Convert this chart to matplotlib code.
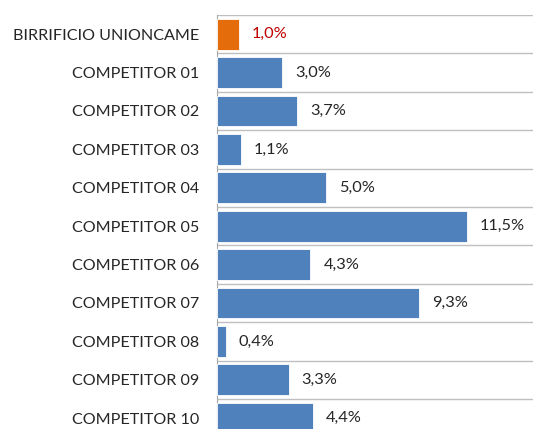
import matplotlib
matplotlib.use("Agg")
import matplotlib.pyplot as plt

# quota di mercato
categories = ["BIRRIFICIO UNIONCAME", "COMPETITOR 01", "COMPETITOR 02", "COMPETITOR 03",
              "COMPETITOR 04", "COMPETITOR 05", "COMPETITOR 06", "COMPETITOR 07",
              "COMPETITOR 08", "COMPETITOR 09", "COMPETITOR 10"]
values = [1.0, 3.0, 3.7, 1.1, 5.0, 11.5, 4.3, 9.3, 0.4, 3.3, 4.4]
value_labels = ["1,0%", "3,0%", "3,7%", "1,1%", "5,0%", "11,5%", "4,3%", "9,3%", "0,4%", "3,3%", "4,4%"]

plt.rcParams['font.family'] = ['Lato', 'DejaVu Sans']

W, H = 533, 429
fig = plt.figure(figsize=(W / 100, H / 100), dpi=100)
fig.patch.set_facecolor('white')

# axes runs past the bottom edge, like the cropped original
top_px, pitch = 15, 38.4
bottom_px = top_px + pitch * len(categories)
ax = fig.add_axes([217 / W, 1 - bottom_px / H, 1 - 217 / W, (bottom_px - top_px) / H])

colors = ['#E46C0A'] + ['#4F81BD'] * (len(values) - 1)
y = list(range(len(categories)))
ax.barh(y, values, height=0.8, color=colors, edgecolor='white', linewidth=0.6, zorder=3)

for i, (v, lab) in enumerate(zip(values, value_labels)):
    ax.annotate(lab, (v, i), xytext=(13, 0), textcoords='offset pixels',
                va='center', ha='left', fontsize=11.8,
                color='#C00000' if i == 0 else '#262626')

ax.set_xlim(0, (W - 217) / 21.74)
ax.set_ylim(len(categories) - 0.5, -0.5)

# separators between categories
for b in [i + 0.5 for i in range(-1, len(categories))]:
    ax.axhline(b, color='#BFBFBF', lw=1.0, zorder=1)

ax.set_yticks(y)
ax.set_yticklabels(categories, fontsize=11.6, color='#262626')
ax.tick_params(axis='y', length=0, pad=13)
ax.set_xticks([])
for s in ['top', 'right', 'bottom']:
    ax.spines[s].set_visible(False)
ax.spines['left'].set_color('#A6A6A6')

fig.savefig('out.png', dpi=100)
